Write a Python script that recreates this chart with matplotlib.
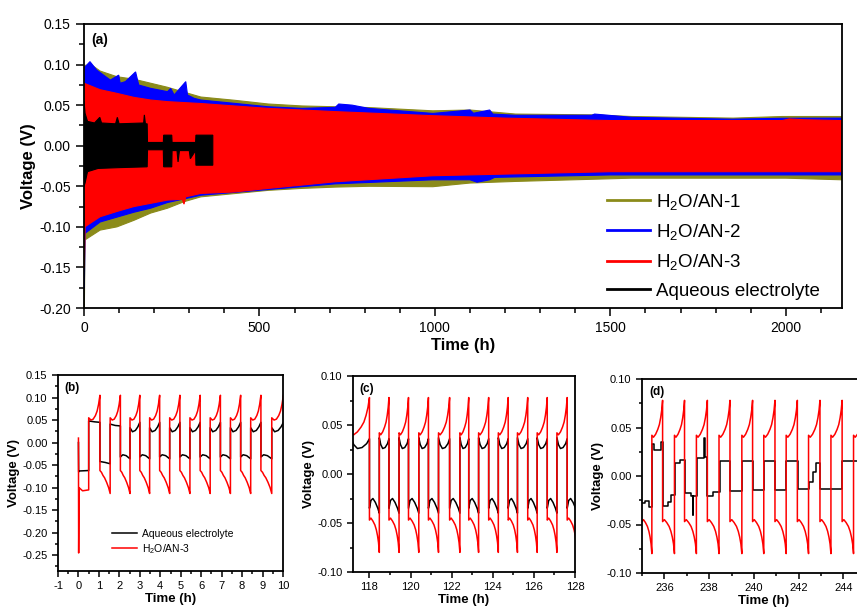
import matplotlib
matplotlib.use("Agg")
import matplotlib.pyplot as plt
from matplotlib.lines import Line2D
from matplotlib.ticker import MultipleLocator, FormatStrFormatter
import numpy as np

plt.rcParams['font.family'] = ['Liberation Sans', 'DejaVu Sans']
plt.rcParams['mathtext.default'] = 'regular'
plt.rcParams['axes.unicode_minus'] = False

# ---------------- panel (a): envelopes of the long-term cycling ----------------
olive_top_t = [0, 3, 20, 46, 94, 142, 190, 238, 285, 333, 429, 525, 621, 716, 812, 994, 1100, 1230, 1450, 1560, 1850, 1990, 2160]
olive_top_v = [0.095, 0.099, 0.1, 0.092, 0.085, 0.082, 0.077, 0.072, 0.066, 0.06, 0.056, 0.0514, 0.049, 0.048, 0.047, 0.043, 0.044, 0.039, 0.038, 0.036, 0.034, 0.036, 0.036]
olive_bot_t = [0, 1, 3, 46, 94, 142, 190, 238, 285, 333, 429, 525, 621, 716, 812, 994, 1100, 1230, 1560, 2000, 2160]
olive_bot_v = [-0.2, -0.2, -0.116, -0.104, -0.1, -0.092, -0.083, -0.077, -0.069, -0.063, -0.059, -0.055, -0.0526, -0.051, -0.05, -0.0505, -0.046, -0.044, -0.04, -0.04, -0.042]

blue_top_t = [0, 3, 17, 36, 75, 99, 103, 118, 147, 156, 190, 238, 247, 257, 290, 295, 314, 333, 429, 525, 621, 716, 726, 764, 812, 994, 1100, 1110, 1156, 1165, 1228, 1447, 1455, 1561, 1846, 1988, 2160]
blue_top_v = [0.09, 0.097, 0.1036, 0.0933, 0.0809, 0.087, 0.077, 0.079, 0.091, 0.0748, 0.0707, 0.0666, 0.0707, 0.0625, 0.079, 0.0625, 0.0584, 0.0563, 0.0522, 0.048, 0.046, 0.0473, 0.0514, 0.05, 0.046, 0.0398, 0.044, 0.040, 0.044, 0.039, 0.0375, 0.0375, 0.039, 0.035, 0.0327, 0.0338, 0.034]
blue_bot_t = [0, 1, 3, 46, 94, 142, 190, 238, 333, 525, 716, 994, 1100, 1120, 1156, 1170, 1500, 2160]
blue_bot_v = [-0.175, -0.175, -0.108, -0.094, -0.088, -0.082, -0.077, -0.07, -0.061, -0.054, -0.047, -0.042, -0.042, -0.045, -0.042, -0.039, -0.036, -0.036]

red_top_t = [0, 46, 94, 142, 190, 238, 333, 525, 716, 994, 1200, 1500, 1990, 2010, 2050, 2160]
red_top_v = [0.077, 0.069, 0.0645, 0.0596, 0.0563, 0.0543, 0.052, 0.046, 0.042, 0.037, 0.034, 0.031, 0.031, 0.033, 0.032, 0.031]
red_bot_t = [0, 1, 3, 46, 94, 142, 190, 238, 280, 285, 290, 333, 429, 525, 621, 716, 994, 1500, 2160]
red_bot_v = [-0.15, -0.15, -0.0998, -0.0875, -0.081, -0.075, -0.071, -0.067, -0.066, -0.072, -0.063, -0.0588, -0.057, -0.0526, -0.0485, -0.0444, -0.037, -0.032, -0.032]

black_top_t = [0, 3, 10, 30, 45, 50, 90, 95, 100, 170, 172, 175, 180, 181, 226, 227, 250, 251, 318, 319, 367]
black_top_v = [0.055, 0.04, 0.03, 0.028, 0.035, 0.028, 0.027, 0.035, 0.027, 0.028, 0.038, 0.027, 0.027, 0.004, 0.004, 0.013, 0.013, 0.004, 0.004, 0.013, 0.013]
black_bot_t = [0, 3, 10, 40, 100, 180, 181, 226, 227, 250, 251, 265, 268, 272, 300, 303, 318, 319, 367]
black_bot_v = [-0.05, -0.046, -0.032, -0.028, -0.027, -0.026, -0.005, -0.005, -0.026, -0.026, -0.006, -0.006, -0.02, -0.006, -0.006, -0.016, -0.006, -0.024, -0.024]

series_a = [
    ("H$_2$O/AN-1", "#8b8b1a", olive_top_t, olive_top_v, olive_bot_t, olive_bot_v),
    ("H$_2$O/AN-2", "#0000ff", blue_top_t, blue_top_v, blue_bot_t, blue_bot_v),
    ("H$_2$O/AN-3", "#ff0000", red_top_t, red_top_v, red_bot_t, red_bot_v),
    ("Aqueous electrolyte", "#000000", black_top_t, black_top_v, black_bot_t, black_bot_v),
]

# ---------------- per-half-cycle shapes (fraction of half, voltage) ----------------
red_b_pos_f = [0, 0.2, 0.4, 0.6, 0.75, 0.88, 1.0]
red_b_pos_v = [0.055, 0.05, 0.052, 0.06, 0.07, 0.085, 0.105]
red_b_neg_f = [0, 0.15, 0.3, 0.45, 0.65, 0.85, 1.0]
red_b_neg_v = [-0.062, -0.066, -0.073, -0.078, -0.088, -0.1, -0.113]
blk_b_pos_f = [0, 0.25, 0.6, 1.0]
blk_b_pos_v = [0.032, 0.027, 0.029, 0.036]
blk_b_neg_f = [0, 0.25, 0.55, 0.8, 1.0]
blk_b_neg_v = [-0.033, -0.024, -0.027, -0.035, -0.045]

red_cd_pos_f = [0, 0.15, 0.35, 0.55, 0.7, 0.82, 0.92, 1.0]
red_cd_pos_v = [0.042, 0.040, 0.043, 0.048, 0.053, 0.06, 0.068, 0.078]
red_cd_neg_f = [0, 0.15, 0.35, 0.55, 0.7, 0.82, 0.92, 1.0]
red_cd_neg_v = [-0.047, -0.045, -0.048, -0.052, -0.057, -0.063, -0.07, -0.08]
blk_c_pos_f = [0, 0.15, 0.35, 0.6, 0.85, 1.0]
blk_c_pos_v = [0.037, 0.03, 0.026, 0.027, 0.031, 0.036]
blk_c_neg_f = [0, 0.15, 0.35, 0.6, 0.85, 1.0]
blk_c_neg_v = [-0.035, -0.027, -0.025, -0.029, -0.035, -0.04]

# half-cycle boundaries
edges_b = [0.5, 1.05, 1.55, 2.05, 2.52, 3.0, 3.48, 3.97, 4.46, 4.96, 5.45, 5.95, 6.44, 6.94, 7.43, 7.93, 8.42, 8.92, 9.45, 10.02]
edges_c = [117.1, 118.0, 118.48, 118.95, 119.44, 119.9, 120.4, 120.87, 121.36, 121.9, 122.4, 122.83, 123.31, 123.8, 124.27, 124.75, 125.2, 125.7, 126.16, 126.65, 127.12, 127.62, 128.1]
edges_d = [235.0, 235.44, 235.92, 236.45, 236.9, 237.43, 237.92, 238.44, 238.93, 239.46, 239.94, 240.44, 240.94, 241.44, 241.94, 242.44, 242.95, 243.44, 243.94, 244.45, 244.95, 245.45, 245.95]

# start of panel (b): formation step
red_b_lead_t = [0, 0.01, 0.03, 0.2, 0.5]
red_b_lead_v = [0.01, -0.245, -0.1, -0.107, -0.105]
blk_b_lead_t = [0, 0.01, 0.05, 0.5, 0.5, 0.8, 1.05, 1.05, 1.3, 1.55, 1.55, 1.8, 2.05]
blk_b_lead_v = [0.0, -0.065, -0.063, -0.062, 0.048, 0.046, 0.045, -0.042, -0.044, -0.047, 0.041, 0.038, 0.037]

# panel (d) black: step levels
black_d_t = [235.0, 235.15, 235.3, 235.44, 235.55, 235.85, 235.95, 236.18, 236.3, 236.47, 236.7, 236.93, 237.2, 237.28, 237.3, 237.46, 237.75, 237.8, 237.92, 238.18, 238.47, 238.95, 239.47, 239.96, 240.46, 240.96, 241.45, 241.96, 242.44, 242.62, 242.77, 242.95, 243.94, 245.0]
black_d_v = [-0.028, -0.026, -0.032, 0.033, 0.027, 0.035, -0.031, -0.027, -0.02, 0.013, 0.017, -0.018, -0.021, -0.04, -0.021, 0.019, 0.039, 0.02, -0.021, -0.017, 0.015, -0.015, 0.015, -0.014, 0.015, -0.014, 0.015, -0.013, -0.006, 0.004, 0.0135, -0.013, 0.015, 0.015]


def build(edges, sign, pf, pv, nf, nv):
    t, v = [], []
    for a, b in zip(edges[:-1], edges[1:]):
        f, y = (pf, pv) if sign > 0 else (nf, nv)
        t += [a + (b - a) * x for x in f]
        v += list(y)
        sign = -sign
    return t, v


def style(ax, xmaj, xmin, ymaj, ymin, fs, L):
    for s in ax.spines.values():
        s.set_linewidth(1.3)
    ax.xaxis.set_major_locator(MultipleLocator(xmaj))
    ax.xaxis.set_minor_locator(MultipleLocator(xmin))
    ax.yaxis.set_major_locator(MultipleLocator(ymaj))
    ax.yaxis.set_minor_locator(MultipleLocator(ymin))
    ax.yaxis.set_major_formatter(FormatStrFormatter('%.2f'))
    ax.tick_params(which='both', direction='out', top=False, right=False, labelsize=fs, width=1.1)
    ax.tick_params(which='major', length=L)
    ax.tick_params(which='minor', length=L * 0.55)


fig = plt.figure(figsize=(8.57, 6.10), dpi=100)

# ---- (a)
ax = fig.add_axes([84 / 857, 302 / 610, 758 / 857, 284 / 610])
for name, c, tt, tv, bt, bv in series_a:
    xs = np.r_[tt, bt[::-1]]
    ys = np.r_[tv, bv[::-1]]
    ax.fill(xs, ys, color=c, lw=0.8)
ax.set_xlim(0, 2160)
ax.set_ylim(-0.2, 0.15)
style(ax, 500, 100, 0.05, 0.025, 10, 6)
ax.set_xlabel("Time (h)", fontsize=12, fontweight='bold', labelpad=2)
ax.set_ylabel("Voltage (V)", fontsize=12, fontweight='bold', labelpad=2)
ax.text(0.01, 0.93, "(a)", transform=ax.transAxes, fontsize=10, fontweight='bold')
handles = [Line2D([], [], color=c, lw=2) for _, c, *_ in series_a]
ax.legend(handles, [s[0] for s in series_a], loc='lower right', bbox_to_anchor=(0.993, -0.03),
          frameon=False, fontsize=13.5, handlelength=2.3, labelspacing=0.55, handletextpad=0.3)

# ---- (b)
axb = fig.add_axes([58 / 857, 39 / 610, 225 / 857, 196 / 610])
rt, rv = build(edges_b, 1, red_b_pos_f, red_b_pos_v, red_b_neg_f, red_b_neg_v)
bt_, bv_ = build(edges_b[3:], -1, blk_b_neg_f, blk_b_neg_v, blk_b_pos_f, blk_b_pos_v)
bv_ = [-x for x in bv_]
axb.plot(blk_b_lead_t + bt_, blk_b_lead_v + bv_, color='k', lw=1.1, label="Aqueous electrolyte")
axb.plot(red_b_lead_t + rt, red_b_lead_v + rv, color='#ff0000', lw=1.1, label="H$_2$O/AN-3")
axb.set_xlim(-1, 10)
axb.set_ylim(-0.285, 0.15)
style(axb, 1, 0.5, 0.05, 0.025, 8, 4)
axb.set_xlabel("Time (h)", fontsize=9.5, fontweight='bold', labelpad=1)
axb.set_ylabel("Voltage (V)", fontsize=9.5, fontweight='bold', labelpad=2)
axb.text(0.03, 0.92, "(b)", transform=axb.transAxes, fontsize=8.5, fontweight='bold')
axb.legend(loc='lower left', bbox_to_anchor=(0.2, 0.03), frameon=False, fontsize=7.5,
           handlelength=2.4, labelspacing=0.3, handletextpad=0.4)

# ---- (c)
axc = fig.add_axes([353 / 857, 38 / 610, 222 / 857, 196 / 610])
rt, rv = build(edges_c, 1, red_cd_pos_f, red_cd_pos_v, red_cd_neg_f, red_cd_neg_v)
kt, kv = build(edges_c, 1, blk_c_pos_f, blk_c_pos_v, blk_c_neg_f, blk_c_neg_v)
axc.plot(kt, kv, color='k', lw=1.1)
axc.plot(rt, rv, color='#ff0000', lw=1.1)
axc.set_xlim(117.2, 128.0)
axc.set_ylim(-0.1, 0.1)
style(axc, 2, 1, 0.05, 0.025, 8, 4)
axc.set_xlabel("Time (h)", fontsize=9.5, fontweight='bold', labelpad=1)
axc.set_ylabel("Voltage (V)", fontsize=9.5, fontweight='bold', labelpad=2)
axc.text(0.03, 0.92, "(c)", transform=axc.transAxes, fontsize=8.5, fontweight='bold')

# ---- (d)  (cut off by the right edge in the original)
axd = fig.add_axes([642 / 857, 37 / 610, 244 / 857, 194 / 610])
rt, rv = build(edges_d, -1, red_cd_pos_f, red_cd_pos_v, red_cd_neg_f, red_cd_neg_v)
axd.step(black_d_t, black_d_v, where='post', color='k', lw=1.1)
axd.plot(rt, rv, color='#ff0000', lw=1.1)
axd.set_xlim(235.0, 245.9)
axd.set_ylim(-0.1, 0.1)
style(axd, 2, 1, 0.05, 0.025, 8, 4)
axd.set_xlabel("Time (h)", fontsize=9.5, fontweight='bold', labelpad=1)
axd.set_ylabel("Voltage (V)", fontsize=9.5, fontweight='bold', labelpad=2)
axd.text(0.03, 0.92, "(d)", transform=axd.transAxes, fontsize=8.5, fontweight='bold')

fig.savefig("out.png", dpi=100)
